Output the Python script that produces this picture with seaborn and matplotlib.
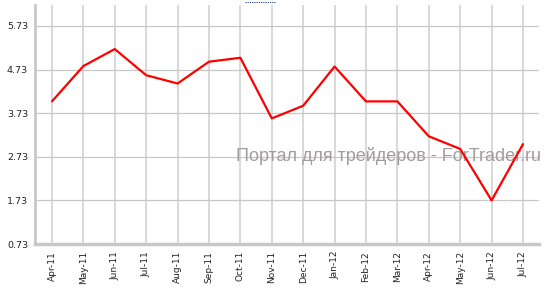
import matplotlib
matplotlib.use("Agg")
import matplotlib.pyplot as plt
from matplotlib.lines import Line2D
import seaborn as sns
import pandas as pd

months = ["Apr-11", "May-11", "Jun-11", "Jul-11", "Aug-11", "Sep-11", "Oct-11", "Nov-11",
          "Dec-11", "Jan-12", "Feb-12", "Mar-12", "Apr-12", "May-12", "Jun-12", "Jul-12"]
values = [4.00, 4.81, 5.20, 4.60, 4.41, 4.91, 5.00, 3.61,
          3.90, 4.80, 4.00, 4.00, 3.20, 2.91, 1.73, 3.02]
y_ticks = [0.73, 1.73, 2.73, 3.73, 4.73, 5.73]
watermark = "Портал для трейдеров - ForTrader.ru"

sns.set_style("white")
plt.rcParams['font.family'] = ['DejaVu Sans']

df = pd.DataFrame({"month": months, "value": values})

fig = plt.figure(figsize=(5.5, 2.92), dpi=100)
ax = fig.add_axes([35/550, 48/292, (539-35)/550, (244-5)/292])

ax.text(389/550, (292-156)/292, watermark, transform=fig.transFigure,
        ha="center", va="center", fontsize=13, color="#a39c9c", zorder=1.5,
        family=["Liberation Sans", "DejaVu Sans"])

sns.lineplot(data=df, x="month", y="value", ax=ax, color="#ff0000", linewidth=1.6,
             sort=False, zorder=3)

ax.set_xlim(-0.54, len(months) - 1 + 0.51)
ax.set_ylim(0.73, 6.21)
ax.set_yticks(y_ticks)
ax.set_yticklabels([f"{v:.2f}" for v in y_ticks], fontsize=6.8, color="#222222")
ax.set_xticks(range(len(months)))
ax.set_xticklabels(months, rotation=90, fontsize=6.5, color="#222222")
ax.set_xlabel("")
ax.set_ylabel("")

ax.grid(True, axis="y", color="#c8c8c8", linewidth=0.9)
ax.grid(True, axis="x", color="#d6d6d6", linewidth=1.3)
ax.set_axisbelow(True)

for s in ["top", "right"]:
    ax.spines[s].set_visible(False)
ax.spines["left"].set_color("#c8c8c8")
ax.spines["left"].set_linewidth(2.0)
ax.spines["bottom"].set_color("#c8c8c8")
ax.spines["bottom"].set_linewidth(2.5)
ax.tick_params(axis="both", length=3, width=0.8, color="#999999", pad=2)

# small dotted focus mark at the top edge
fig.add_artist(Line2D([245/550, 276/550], [290.5/292, 290.5/292], transform=fig.transFigure,
                      color="#1f3a7a", linewidth=0.8, linestyle=(0, (1, 1))))

fig.savefig("out.png", dpi=100)
